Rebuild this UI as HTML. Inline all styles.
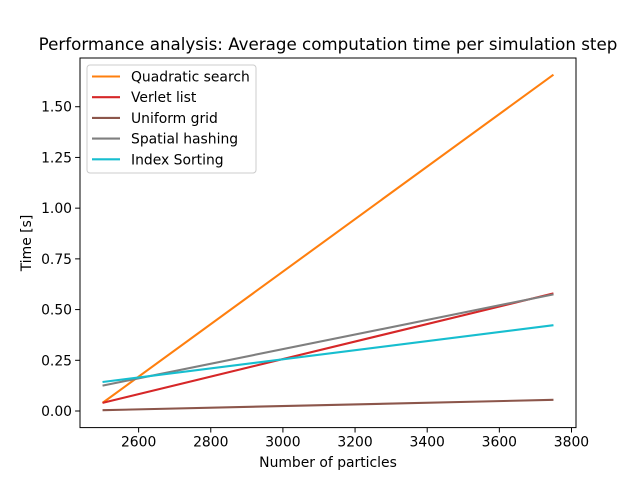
<!DOCTYPE html>
<html><head><meta charset="utf-8"><style>
body{margin:0;background:#fff}
svg{display:block;font-family:"DejaVu Sans","Liberation Sans",sans-serif}
</style></head><body>
<svg id="chart" width="640" height="480" viewBox="0 0 640 480">
<rect width="640" height="480" fill="#fff"/>
<text x="328" y="50" font-size="16.7" text-anchor="middle">Performance analysis: Average computation time per simulation step</text>
<g id="series"></g>
<rect x="80" y="58" width="496" height="369.6" fill="none" stroke="#000" stroke-width="1"/>
<g id="xticks"></g><g id="yticks"></g>
<text x="328" y="467" font-size="13.9" text-anchor="middle">Number of particles</text>
<text transform="translate(31,243) rotate(-90)" font-size="13.9" text-anchor="middle">Time [s]</text>
<g id="legend"></g>
</svg>
<script>
const xValues = [2500, 3750];
const seriesNames = ["Quadratic search", "Verlet list", "Uniform grid", "Spatial hashing", "Index Sorting"];
const quadratic = [0.04, 1.658];
const verlet = [0.04, 0.58];
const uniform = [0.004, 0.055];
const spatial = [0.125, 0.575];
const indexSort = [0.143, 0.423];
const xTicks = [2600, 2800, 3000, 3200, 3400, 3600, 3800];
const yTicks = [0, 0.25, 0.5, 0.75, 1.0, 1.25, 1.5];
const yTickLabels = ["0.00", "0.25", "0.50", "0.75", "1.00", "1.25", "1.50"];

const colors = ["#ff7f0e", "#d62728", "#8c564b", "#7f7f7f", "#17becf"];
const NS = "http://www.w3.org/2000/svg";
const L = 80, R = 576, T = 58, B = 427.6;
const xmin = 2437.5, xmax = 3812.5, ymin = -0.0818, ymax = 1.7402;
const sx = v => L + (v - xmin) / (xmax - xmin) * (R - L);
const sy = v => B - (v - ymin) / (ymax - ymin) * (B - T);
function el(tag, attrs, parent) {
  const e = document.createElementNS(NS, tag);
  for (const k in attrs) e.setAttribute(k, attrs[k]);
  parent.appendChild(e); return e;
}
const xg = document.getElementById("xticks");
xTicks.forEach(t => {
  const x = sx(t);
  const l = el("line", {x1: x, x2: x, y1: B, y2: B + 4.9, stroke: "#000"}, xg);
  
  
  const tx = el("text", {x: x, y: B + 19, "font-size": 13.9, "text-anchor": "middle"}, xg);
  
  
  tx.textContent = t;
});
const yg = document.getElementById("yticks");
yTicks.forEach((t, i) => {
  const y = sy(t);
  const l = el("line", {x1: L - 4.9, x2: L, y1: y, y2: y, stroke: "#000"}, yg);
  
  
  const tx = el("text", {x: L - 8, y: y + 5, "font-size": 13.9, "text-anchor": "end"}, yg);
  
  
  tx.textContent = yTickLabels[i];
});
const sg = document.getElementById("series");
const allSeries = [quadratic, verlet, uniform, spatial, indexSort];
allSeries.forEach((vals, i) => {
  const pts = vals.map((v, j) => sx(xValues[j]) + "," + sy(v)).join(" ");
  const p = el("polyline", {points: pts, fill: "none", stroke: colors[i], "stroke-width": 2.08}, sg);
  
  
});
const lg = document.getElementById("legend");
const box = el("rect", {x: 87, y: 65, width: 169, height: 108, rx: 3, fill: "#fff", "fill-opacity": 0.8, stroke: "#ccc"}, lg);


seriesNames.forEach((n, i) => {
  const y = 76.5 + i * 20.7;
  const l = el("line", {x1: 92, x2: 120, y1: y, y2: y, stroke: colors[i], "stroke-width": 2.08}, lg);
  
  
  const t = el("text", {x: 131, y: y + 5, "font-size": 13.9}, lg);
  
  
  t.textContent = n;
});
</script>
</body></html>
